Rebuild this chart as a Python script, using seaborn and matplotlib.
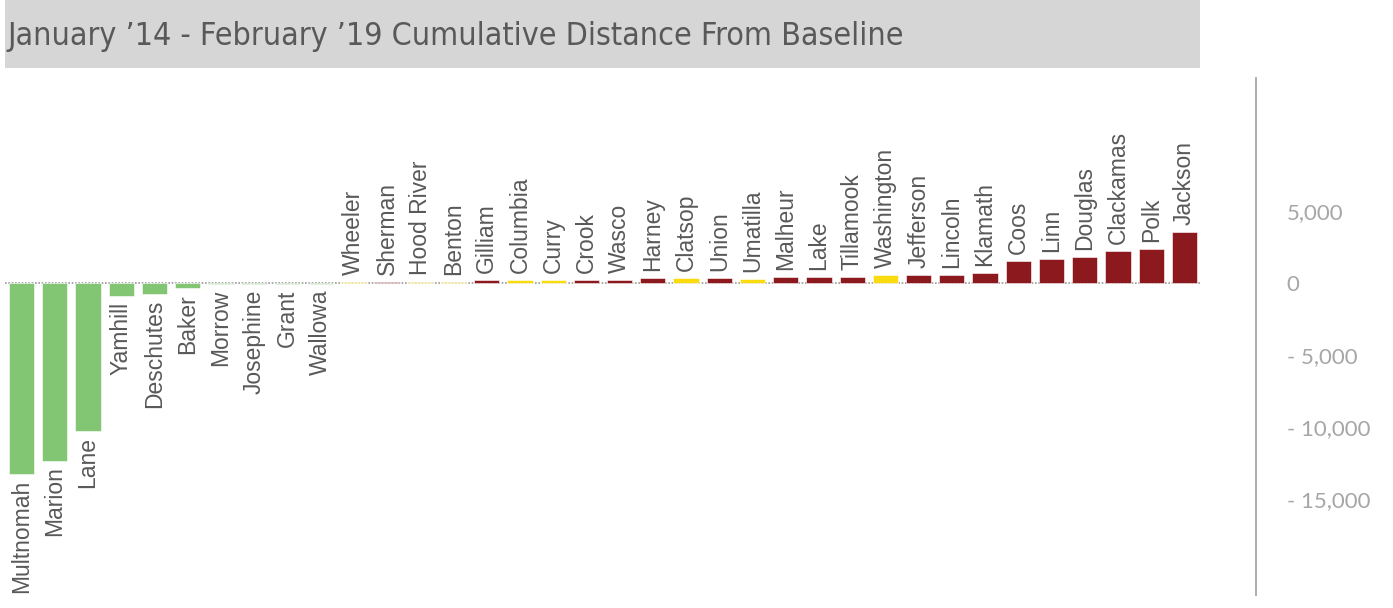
import numpy as np
import pandas as pd
import matplotlib
matplotlib.use('Agg')
import matplotlib.pyplot as plt
import seaborn as sns
from matplotlib.patches import Rectangle

#counties sorted by cumulative distance from baseline
counties = ['Multnomah', 'Marion', 'Lane', 'Yamhill', 'Deschutes', 'Baker', 'Morrow',
            'Josephine', 'Grant', 'Wallowa', 'Wheeler', 'Sherman', 'Hood River', 'Benton',
            'Gilliam', 'Columbia', 'Curry', 'Crook', 'Wasco', 'Harney', 'Clatsop', 'Union',
            'Umatilla', 'Malheur', 'Lake', 'Tillamook', 'Washington', 'Jefferson', 'Lincoln',
            'Klamath', 'Coos', 'Linn', 'Douglas', 'Clackamas', 'Polk', 'Jackson']
distance = [-13260, -12350, -10280, -900, -790, -370, -80,
            -70, -60, -50, 40, 60, 60, 70,
            200, 180, 180, 190, 200, 320, 320, 320,
            290, 440, 440, 440, 580, 580, 580,
            720, 1530, 1670, 1810, 2200, 2340, 3570]
status = ['below'] * 10 + ['near', 'above', 'near', 'near', 'above', 'near', 'near',
          'above', 'above', 'above', 'near', 'above', 'near', 'above', 'above', 'above',
          'near', 'above', 'above', 'above', 'above', 'above', 'above', 'above', 'above', 'above']

ytick_vals = [5000, 0, -5000, -10000, -15000]
ytick_labels = ['5,000', '0', '- 5,000', '- 10,000', '- 15,000']

title = "January \u201914 - February \u201919 Cumulative Distance From Baseline"

df = pd.DataFrame({'county': counties, 'distance': distance, 'status': status})
palette = {'below': '#82C674', 'near': '#FADB0F', 'above': '#8C191D'}

sns.set_style('white')
plt.rcParams['font.family'] = ['Liberation Sans', 'DejaVu Sans']

W, H = 1393, 608
fig = plt.figure(figsize=(W / 100, H / 100), dpi=100)
ax = fig.add_axes([5 / W, 1 - 595 / H, (1201 - 5) / W, (595 - 78) / H])

ax.axhline(0, color='#9a9a9a', lw=1.2, ls=(0, (1, 1)), zorder=0)
sns.barplot(data=df, x='county', y='distance', hue='status', palette=palette,
            order=counties, dodge=False, width=0.76, legend=False, ax=ax,
            saturation=1, edgecolor='white', linewidth=0.4, zorder=2)

ax.set_xlim(-0.5, 35.5)
ax.set_ylim(-21667, 14236)

#labels at the end of each bar
for i, (c, v) in enumerate(zip(counties, distance)):
    if v >= 0:
        ax.annotate(c, (i, v), xytext=(0, 5), textcoords='offset points',
                    rotation=90, ha='center', va='bottom', fontsize=16.5, color='#595959')
    else:
        ax.annotate(c, (i, v), xytext=(0, -4), textcoords='offset points',
                    rotation=90, ha='center', va='top', fontsize=16.5, color='#595959')

ax.set_xticks([])
ax.set_xlabel('')
ax.set_ylabel('')
for s in ['left', 'top', 'bottom']:
    ax.spines[s].set_visible(False)
ax.spines['right'].set_position(('axes', 1.046))
ax.spines['right'].set_color('#a6a6a6')
ax.spines['right'].set_linewidth(1.3)
ax.yaxis.tick_right()
ax.set_yticks(ytick_vals)
ax.set_yticklabels(ytick_labels, fontfamily=['Lato', 'DejaVu Sans'], fontsize=16, color='#a6a6a6')
ax.tick_params(axis='y', length=0, pad=22)

#title band
fig.patches.append(Rectangle((5 / W, 1 - 68 / H), (1200 - 5) / W, 68 / H,
                             transform=fig.transFigure, facecolor='#d6d6d6',
                             edgecolor='none', zorder=0))
fig.text(7 / W, 1 - 37 / H, title, fontsize=23, color='#595959', va='center', ha='left',
         family='DejaVu Sans', fontstretch='condensed')

fig.savefig('out.png', dpi=100)
